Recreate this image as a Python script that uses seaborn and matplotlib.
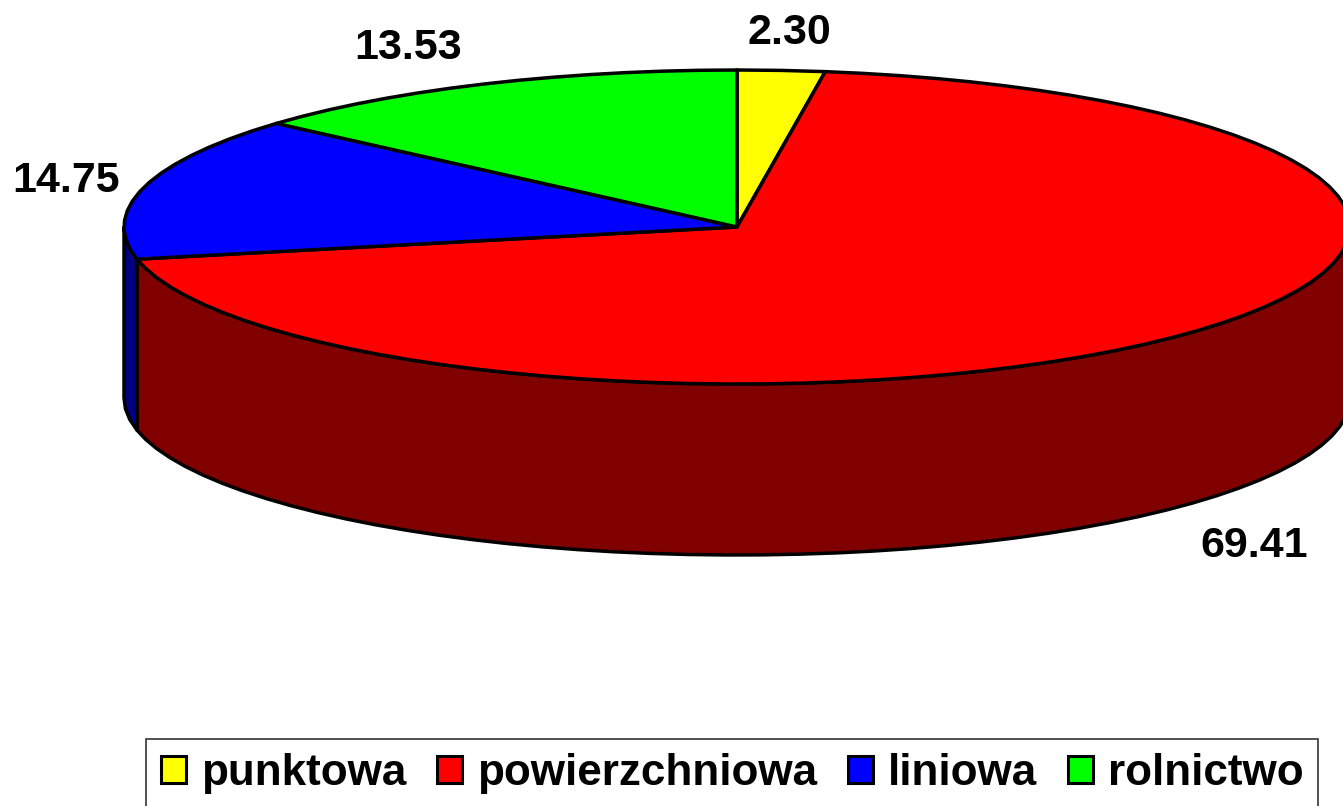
import numpy as np
import matplotlib
matplotlib.use("Agg")
import matplotlib.pyplot as plt
from matplotlib.patches import Polygon, Patch
import seaborn as sns

categories = ["punktowa", "powierzchniowa", "liniowa", "rolnictwo"]
values = [2.30, 69.41, 14.75, 13.53]
value_labels = ["2.30", "69.41", "14.75", "13.53"]
top_colors = ["#FFFF00", "#FF0000", "#0000FF", "#00FF00"]
side_colors = ["#808000", "#800000", "#000080", "#008000"]

sns.set_theme(style="white")
plt.rcParams["font.family"] = ["Liberation Sans", "DejaVu Sans"]

W, H = 1343, 806
fig = plt.figure(figsize=(W / 100, H / 100), dpi=100)
ax = fig.add_axes([0, 0, 1, 1])
ax.set_xlim(0, W)
ax.set_ylim(H, 0)
ax.axis("off")

cx, cy, rx, ry, depth = 737, 227, 613, 157, 171
lw = 2.5


def rim(a0, a1, step=3.5):
    n = max(2, int(round((a1 - a0) / step)) + 1)
    t = np.radians(np.linspace(a0, a1, n))
    return cx + rx * np.sin(t), cy - ry * np.cos(t)


edges = np.concatenate([[0], np.cumsum(values)]) / np.sum(values) * 360
# side wall (front half only: 90 to 270 degrees clockwise from 12 o'clock)
for i in range(len(values)):
    a0, a1 = max(edges[i], 90), min(edges[i + 1], 270)
    if a1 > a0:
        x, y = rim(a0, a1)
        pts = np.r_[np.c_[x, y], np.c_[x[::-1], y[::-1] + depth]]
        ax.add_patch(Polygon(pts, closed=True, fc=side_colors[i], ec="black", lw=lw, joinstyle="round"))
# top face
for i in range(len(values)):
    x, y = rim(edges[i], edges[i + 1])
    pts = np.r_[[[cx, cy]], np.c_[x, y]]
    ax.add_patch(Polygon(pts, closed=True, fc=top_colors[i], ec="black", lw=lw, joinstyle="round"))

label_pos = [(789, 33), (1254, 546), (66, 181), (408, 48)]
for txt, (lx, ly) in zip(value_labels, label_pos):
    ax.text(lx, ly, txt, ha="center", va="center", fontsize=31, fontweight="bold", color="black")

handles = [Patch(fc=c, ec="black", lw=2.2) for c in top_colors]
leg = fig.legend(handles, categories, ncol=4, loc="lower left",
                 bbox_to_anchor=(146 / W, -3 / H), bbox_transform=fig.transFigure,
                 prop={"size": 31.7, "weight": "bold"}, frameon=True, fancybox=False,
                 edgecolor="#333333", framealpha=1, borderaxespad=0, borderpad=0.335,
                 handlelength=0.58, handleheight=0.58, handletextpad=0.33, columnspacing=0.7)
leg.get_frame().set_linewidth(1.2)
for t in leg.get_texts():
    t.set_color("black")

fig.savefig("out.png", dpi=100)
